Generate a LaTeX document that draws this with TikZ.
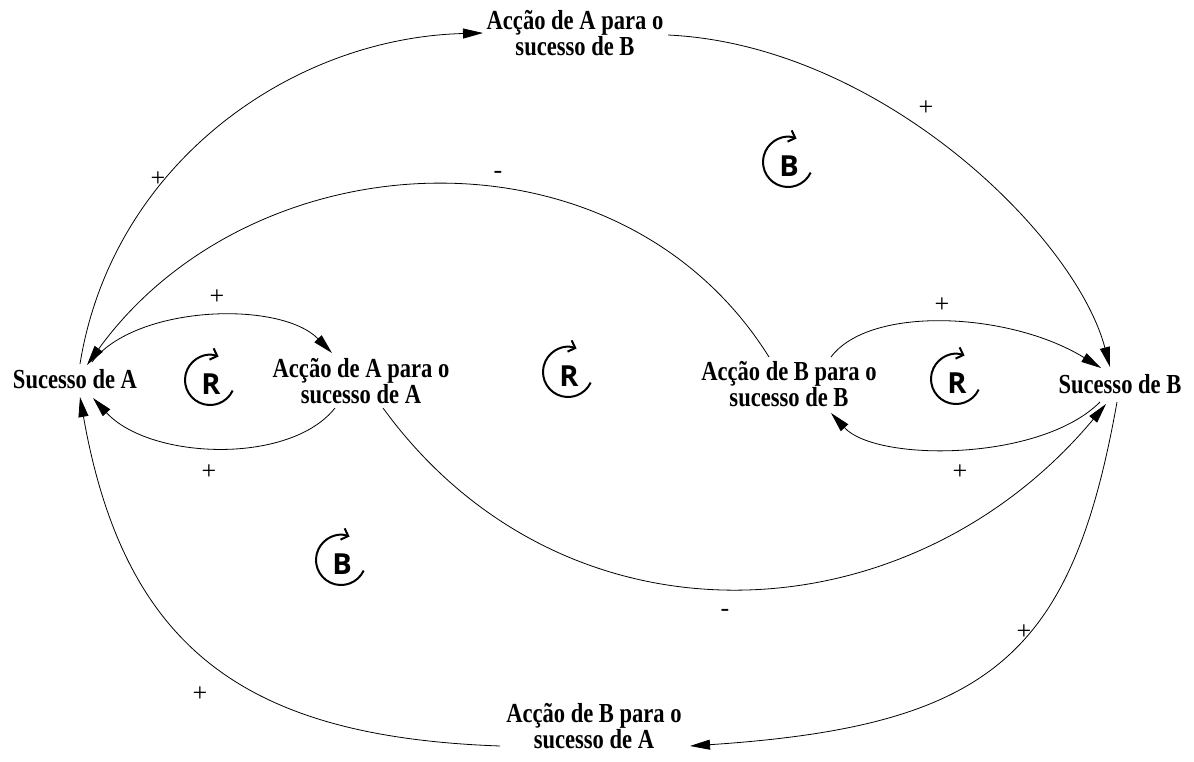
\documentclass[tikz,border=0pt]{standalone}
\usepackage{fontspec}
\usetikzlibrary{arrows.meta}
\newfontfamily\varfont{Liberation Serif}[FakeStretch=0.82]
\newfontfamily\signfont{Liberation Serif}
\newfontfamily\loopfont{Open Sans}
\tikzset{
  var/.style={font=\varfont\bfseries\fontsize{27.5}{25.5}\selectfont, align=center, inner sep=0pt},
  link/.style={line width=0.8pt, -{Triangle[length=20pt,width=10pt]}},
  sgn/.style={font=\signfont\fontsize{26}{26}\selectfont, inner sep=0pt},
  loopname/.style={font=\loopfont\bfseries\fontsize{29}{29}\selectfont, inner sep=0pt},
  looparrow/.style={line width=2pt, -{Straight Barb[length=6pt,width=12pt]}}
}
\begin{document}
\begin{tikzpicture}[x=1pt, y=-1pt]
 \useasboundingbox (0,0) rectangle (1194,761);

 % variaveis
 \node[var] (sa) at (75,379) {Sucesso de A};
 \node[var] (aa) at (361,381) {Acção de A para o\\sucesso de A};
 \node[var] (bb) at (789,384) {Acção de B para o\\sucesso de B};
 \node[var] (sb) at (1120,384) {Sucesso de B};
 \node[var] (ab) at (575,33) {Acção de A para o\\sucesso de B};
 \node[var] (ba) at (594,726) {Acção de B para o\\sucesso de A};

 % ligacoes causais
 \draw[link] ([shift={(5,-15)}]sa.center) .. controls (112,165) and (290,38) .. ([shift={(-92,0)}]ab.center);
 \draw[link] ([shift={(93,2)}]ab.center) .. controls (880,45) and (1075,235) .. ([shift={(-10,-17)}]sb.center);
 \draw[link] ([shift={(-20,-27)}]bb.center) .. controls (619,117) and (253,136) .. ([shift={(12,-14)}]sa.center);
 \draw[link] ([shift={(17,-17)}]sa.center) .. controls (135,305) and (280,300) .. ([shift={(-29,-28)}]aa.center);
 \draw[link] ([shift={(-26,27)}]aa.center) .. controls (290,465) and (150,460) .. ([shift={(18,19)}]sa.center);
 \draw[link] ([shift={(42,-27)}]bb.center) .. controls (870,305) and (1010,312) .. ([shift={(-19,-16)}]sb.center);
 \draw[link] ([shift={(-20,18)}]sb.center) .. controls (1040,462) and (876,462) .. ([shift={(42,29)}]bb.center);
 \draw[link] ([shift={(22,27)}]aa.center) .. controls (565,658) and (909,640) .. ([shift={(-14,20)}]sb.center);
 \draw[link] ([shift={(-3,18)}]sb.center) .. controls (1072,655) and (991,726) .. ([shift={(96,20)}]ba.center);
 \draw[link] ([shift={(-94,20)}]ba.center) .. controls (249,737) and (125,652) .. ([shift={(5,18)}]sa.center);

 % polaridades
 \node[sgn] (p1) at (158,179) {+};
 \node[sgn] (m1) at (498,175) {-};
 \node[sgn] (p2) at (926,108) {+};
 \node[sgn] (p3) at (217,297) {+};
 \node[sgn] (p4) at (209,472) {+};
 \node[sgn] (p5) at (942,305) {+};
 \node[sgn] (p6) at (960,472) {+};
 \node[sgn] (m2) at (725,613) {-};
 \node[sgn] (p7) at (1024,632) {+};
 \node[sgn] (p8) at (200,694) {+};

 % ciclos
 \foreach \n/\x/\y/\t in {r1/211/384/R, r2/569/376/R, r3/957/383/R, b1/789/166/B, b2/342/564/B}{
  \node[loopname] (\n) at (\x,\y) {\t};
  \draw[looparrow] ([shift={(-1,-4)}, shift={(25:25)}]\n.center) arc[start angle=25, end angle=290, radius=25];
 }
\end{tikzpicture}
\end{document}
